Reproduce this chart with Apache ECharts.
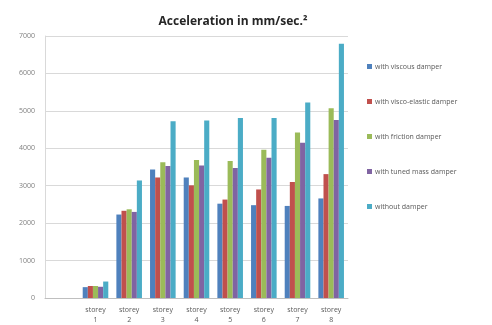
<!DOCTYPE html>
<html><head><meta charset="utf-8">
<script src="https://cdn.jsdelivr.net/npm/echarts@6/dist/echarts.min.js"></script>
<style>html,body{margin:0;padding:0;background:#fff}#c{width:492px;height:325px}</style>
</head><body><div id="c"></div>
<script>
const categories = ['', 'storey\n1', 'storey\n2', 'storey\n3', 'storey\n4', 'storey\n5', 'storey\n6', 'storey\n7', 'storey\n8'];
const seriesNames = ['with viscous damper', 'with visco-elastic damper', 'with friction damper', 'with tuned mass damper', 'without damper'];
const viscous      = [null, 290, 2230, 3430, 3220, 2520, 2480, 2460, 2660];
const viscoElastic = [null, 320, 2330, 3220, 3010, 2630, 2900, 3100, 3310];
const friction     = [null, 320, 2370, 3630, 3690, 3660, 3960, 4420, 5070];
const tunedMass    = [null, 300, 2300, 3530, 3540, 3470, 3750, 4150, 4755];
const withoutDamper= [null, 440, 3140, 4720, 4740, 4810, 4810, 5220, 6790];
const yTicks = [0, 1000, 2000, 3000, 4000, 5000, 6000, 7000];
const colors = ['#4F81BD', '#C0504D', '#9BBB59', '#8064A2', '#4BACC6'];
const data = [viscous, viscoElastic, friction, tunedMass, withoutDamper];

const chart = echarts.init(document.getElementById('c'));
chart.setOption({
  animation: false,
  title: { text: 'Acceleration in mm/sec.²', left: 228, textAlign: 'center', top: 11,
    textStyle: { fontSize: 12, fontWeight: 'bold', color: '#262626', fontFamily: 'Open Sans' } },
  legend: { orient: 'vertical', left: 362, top: 58, itemGap: 28, itemWidth: 5, itemHeight: 5, icon: 'rect',
    textStyle: { fontSize: 7, color: '#595959', fontFamily: 'Open Sans', padding: [0,0,0,-2] },
    data: seriesNames },
  grid: { left: 45, right: 144, top: 36, bottom: 25 },
  xAxis: { type: 'category', data: categories,
    axisLine: { lineStyle: { color: '#bfbfbf' } }, axisTick: { show: false },
    axisLabel: { fontSize: 7, color: '#595959', lineHeight: 10, margin: 7, interval: 0, fontFamily: 'Open Sans' } },
  yAxis: { type: 'value', min: yTicks[0], max: yTicks[yTicks.length-1], interval: 1000,
    axisLine: { show: true, lineStyle: { color: '#d9d9d9' } },
    axisLabel: { fontSize: 7, color: '#7f7f7f', margin: 10, fontFamily: 'Open Sans', formatter: v => String(v) },
    splitLine: { lineStyle: { color: '#d9d9d9' } } },
  series: seriesNames.map((n, i) => ({
    name: n, type: 'bar', data: data[i], barGap: 0, barCategoryGap: '24%',
    itemStyle: { color: colors[i] }
  }))
});
</script></body></html>
